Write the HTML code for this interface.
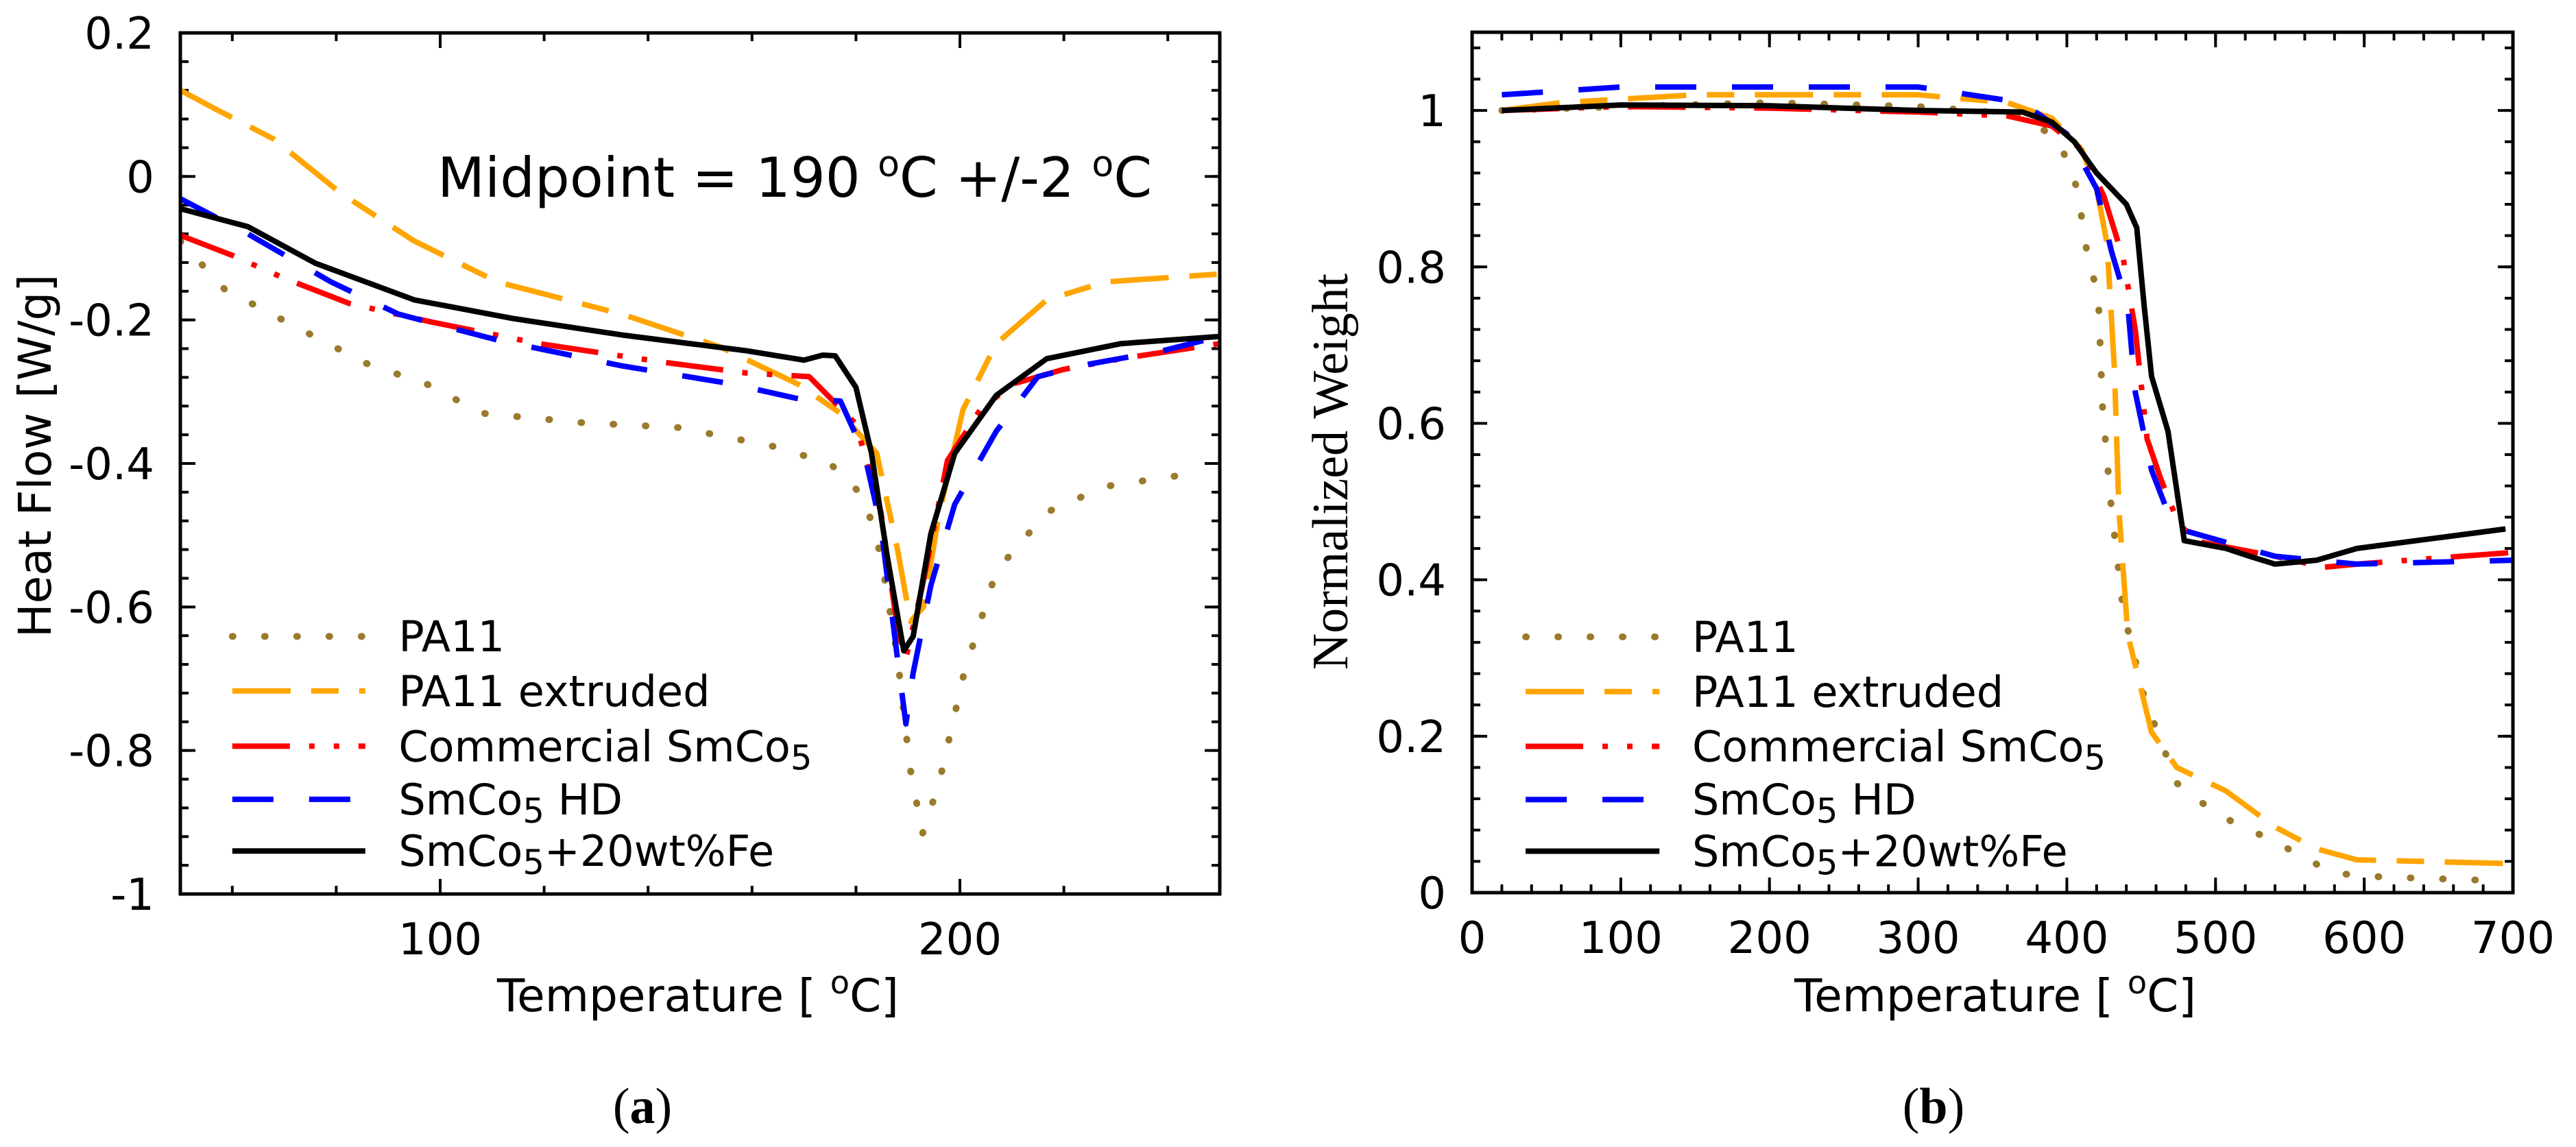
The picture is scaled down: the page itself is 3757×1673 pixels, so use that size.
<!DOCTYPE html>
<html><head><meta charset="utf-8"><style>
html,body{margin:0;padding:0;background:#fff;}
svg{display:block;font-family:"DejaVu Sans","Liberation Sans",sans-serif;}
</style></head><body>
<svg id="fig" width="3757" height="1673" viewBox="0 0 3757 1673" xmlns="http://www.w3.org/2000/svg"></svg>
<script>
// ---- Panel (a) data: DSC heat flow ----
const dscPA11 = [[50,-0.09],[58.5,-0.157],[69.7,-0.2],[85.6,-0.26],[97.6,-0.29],[108,-0.33],[127,-0.343],[146,-0.35],[164,-0.376],[175,-0.4],[181.6,-0.447],[184.8,-0.529],[188,-0.67],[190.4,-0.824],[192.8,-0.916],[196,-0.845],[200.8,-0.692],[207,-0.55],[216.7,-0.468],[228,-0.432],[242,-0.417],[247,-0.41]];
const dscExtruded = [[50,0.12],[57,0.093],[68,0.052],[81,-0.024],[95,-0.09],[111,-0.147],[135,-0.192],[154,-0.238],[169,-0.29],[177,-0.33],[184,-0.386],[188,-0.52],[190.5,-0.62],[193,-0.6],[196,-0.47],[200.6,-0.325],[207,-0.233],[216.7,-0.172],[228,-0.147],[250,-0.136]];
const dscCommercial = [[50,-0.082],[60,-0.11],[69.7,-0.141],[82.5,-0.177],[98.4,-0.203],[119,-0.233],[143,-0.259],[159,-0.274],[171,-0.279],[180,-0.345],[184.8,-0.468],[188,-0.63],[189.6,-0.672],[192.8,-0.57],[197.6,-0.396],[203.9,-0.325],[210.3,-0.289],[219.9,-0.269],[231,-0.254],[250,-0.233]];
const dscHD = [[50,-0.031],[63,-0.08],[79,-0.147],[92,-0.192],[111,-0.228],[135,-0.264],[156,-0.289],[169,-0.31],[177,-0.313],[181.6,-0.386],[184.8,-0.488],[188,-0.672],[189.6,-0.763],[191,-0.692],[194.4,-0.57],[199,-0.457],[207,-0.355],[215,-0.279],[223,-0.264],[239,-0.243],[250,-0.223]];
const dscFe = [[50,-0.045],[63,-0.07],[76,-0.121],[95,-0.172],[114,-0.198],[135,-0.221],[159,-0.243],[170,-0.256],[173.6,-0.249],[176,-0.25],[180,-0.294],[183,-0.386],[186,-0.529],[189.2,-0.661],[191,-0.641],[194.4,-0.498],[199,-0.386],[207,-0.305],[216.7,-0.254],[231,-0.233],[250,-0.223]];
const aXTicks = [100,200];
const aYTicks = [0.2,0,-0.2,-0.4,-0.6,-0.8,-1];
const aYTickLabels = ["0.2","0","-0.2","-0.4","-0.6","-0.8","-1"];

// ---- Panel (b) data: TGA normalized weight ----
const tgaPA11 = [[20,1.0],[100,1.005],[200,1.01],[300,1.005],[370,0.995],[395,0.96],[407,0.9],[415,0.8],[421,0.77],[424,0.62],[430,0.49],[438,0.36],[452,0.25],[474,0.14],[501,0.1],[540,0.065],[579,0.025],[612,0.02],[695,0.015]];
const tgaExtruded = [[20,1.0],[60,1.01],[150,1.02],[300,1.02],[360,1.01],[390,0.99],[410,0.95],[420,0.9],[427,0.83],[432,0.67],[435,0.49],[441,0.33],[457,0.205],[474,0.16],[507,0.13],[540,0.084],[568,0.056],[595,0.042],[700,0.037]];
const tgaCommercial = [[20,1.0],[100,1.005],[200,1.003],[300,0.998],[360,0.993],[390,0.98],[410,0.95],[425,0.89],[438,0.81],[446,0.72],[454,0.58],[463,0.53],[474,0.477],[485,0.45],[540,0.43],[573,0.416],[595,0.42],[700,0.435]];
const tgaHD = [[20,1.02],[100,1.03],[200,1.03],[300,1.03],[370,1.01],[400,0.97],[420,0.9],[430,0.82],[441,0.75],[446,0.64],[457,0.54],[468,0.486],[479,0.463],[540,0.43],[595,0.42],[700,0.425]];
const tgaFe = [[20,1.0],[100,1.007],[200,1.006],[300,1.0],[370,0.998],[390,0.985],[405,0.96],[420,0.92],[440,0.88],[447,0.85],[452,0.75],[457,0.66],[468,0.59],[479,0.45],[507,0.44],[523,0.43],[540,0.42],[568,0.425],[595,0.44],[695,0.465]];
const bXTicks = [0,100,200,300,400,500,600,700];
const bYTicks = [0,0.2,0.4,0.6,0.8,1];
const bYTickLabels = ["0","0.2","0.4","0.6","0.8","1"];

const legendNames = ["PA11","PA11 extruded","Commercial SmCo<tspan font-size='0.8em' dy='12'>5</tspan>","SmCo<tspan font-size='0.8em' dy='12'>5</tspan><tspan dy='-12'> HD</tspan>","SmCo<tspan font-size='0.8em' dy='12'>5</tspan><tspan dy='-12'>+20wt%Fe</tspan>"];
const styles = [
 {c:"#9a7a2c",d:"1 46",cap:"round",w:10,n:"pa11"},
 {c:"#ffa500",d:"85 30 40 30",cap:"butt",w:8,n:"pa11-extruded"},
 {c:"#ff0000",d:"84 28 8 28 8 28",cap:"butt",w:8,n:"commercial-smco5"},
 {c:"#0000ff",d:"60 52",cap:"butt",w:8,n:"smco5-hd"},
 {c:"#000000",d:"",cap:"butt",w:8,n:"smco5-fe"}
];
const NS="http://www.w3.org/2000/svg";
const svg=document.getElementById('fig');
function mk(tag,attrs,parent){const e=document.createElementNS(NS,tag);for(const k in attrs)e.setAttribute(k,attrs[k]);(parent||svg).appendChild(e);return e;}

function panel(o){
  const g=mk('g',{});
  
  
  const sx=v=>o.L+(v-o.x0)/(o.x1-o.x0)*(o.R-o.L);
  const sy=v=>o.B-(v-o.y0)/(o.y1-o.y0)*(o.B-o.T);
  for(let v=o.xm0;v<=o.x1+1e-9;v+=o.xmStep){const x=sx(v);
    mk('line',{x1:x,x2:x,y1:o.B,y2:o.B-12,stroke:'#000','stroke-width':4},g);
    mk('line',{x1:x,x2:x,y1:o.T,y2:o.T+12,stroke:'#000','stroke-width':4},g);}
  for(let v=o.ym0;v<=o.y1+1e-9;v+=o.ymStep){const y=sy(v);
    mk('line',{x1:o.L,x2:o.L+12,y1:y,y2:y,stroke:'#000','stroke-width':4},g);
    mk('line',{x1:o.R,x2:o.R-12,y1:y,y2:y,stroke:'#000','stroke-width':4},g);}
  o.xt.forEach((v)=>{const x=sx(v);
    mk('line',{x1:x,x2:x,y1:o.B,y2:o.B-22,stroke:'#000','stroke-width':4},g);
    mk('line',{x1:x,x2:x,y1:o.T,y2:o.T+22,stroke:'#000','stroke-width':4},g);
    const t=mk('text',{x:x,y:o.B+88,'font-size':64,'text-anchor':'middle',fill:'#000'},g);
    
    
    t.textContent=String(v);});
  o.yt.forEach((v,i)=>{const y=sy(v);
    mk('line',{x1:o.L,x2:o.L+22,y1:y,y2:y,stroke:'#000','stroke-width':4},g);
    mk('line',{x1:o.R,x2:o.R-22,y1:y,y2:y,stroke:'#000','stroke-width':4},g);
    const t=mk('text',{x:o.L-38,y:y+23,'font-size':64,'text-anchor':'end',fill:'#000'},g);
    
    
    t.textContent=o.ytl[i];});
  const cp=mk('clipPath',{id:o.clip},g);mk('rect',{x:o.L,y:o.T,width:o.R-o.L,height:o.B-o.T},cp);
  const cg=mk('g',{'clip-path':'url(#'+o.clip+')'},g);
  o.series.forEach((s,i)=>{const st=styles[i];
    const p=mk('polyline',{points:s.map(d=>sx(d[0]).toFixed(1)+','+sy(d[1]).toFixed(1)).join(' '),fill:'none',stroke:st.c,'stroke-width':st.w,'stroke-dasharray':st.d,'stroke-linecap':st.cap,'stroke-linejoin':'round'},cg);
    
    });
  o.leg.forEach((ly,i)=>{const st=styles[i];const y=sy(ly);
    const lg=mk('g',{},g);
    
    
    mk('line',{x1:sx(o.legX[0]),x2:sx(o.legX[1]),y1:y,y2:y,stroke:st.c,'stroke-width':st.w,'stroke-dasharray':st.d,'stroke-linecap':st.cap},lg);
    const t=mk('text',{x:sx(o.legX[2]),y:y+22,'font-size':62,fill:'#000'},lg);
    t.innerHTML=legendNames[i];});
  mk('rect',{x:o.L,y:o.T,width:o.R-o.L,height:o.B-o.T,fill:'none',stroke:'#000','stroke-width':5},g);
  return {sx,sy,g};
}

const A=panel({name:'panel-a-dsc',L:263,R:1779,T:48,B:1304,x0:50,x1:250,y0:-1,y1:0.2,xm0:60,xmStep:20,ym0:-0.96,ymStep:0.04,xt:aXTicks,yt:aYTicks,ytl:aYTickLabels,clip:'ca',
  series:[dscPA11,dscExtruded,dscCommercial,dscHD,dscFe],leg:[-0.641,-0.717,-0.794,-0.868,-0.94],legX:[60,85.6,92]});
const B=panel({name:'panel-b-tga',L:2147,R:3665,T:47,B:1302,x0:0,x1:700,y0:0,y1:1.1,xm0:20,xmStep:20,ym0:0.04,ymStep:0.04,xt:bXTicks,yt:bYTicks,ytl:bYTickLabels,clip:'cb',
  series:[tgaPA11,tgaExtruded,tgaCommercial,tgaHD,tgaFe],leg:[0.327,0.257,0.187,0.119,0.053],legX:[36,126,148]});

let t;
t=mk('text',{x:638,y:287,'font-size':80,fill:'#000'});


t.innerHTML="Midpoint = 190 <tspan font-size='0.65em' dy='-30'>o</tspan><tspan dy='30'>C +/-2 </tspan><tspan font-size='0.65em' dy='-30'>o</tspan><tspan dy='30'>C</tspan>";
t=mk('text',{x:725,y:1475,'font-size':66,fill:'#000'});


t.innerHTML="Temperature [ <tspan font-size='0.7em' dy='-26'>o</tspan><tspan dy='26'>C]</tspan>";
t=mk('text',{x:2910,y:1475,'font-size':66,'text-anchor':'middle',fill:'#000'});


t.innerHTML="Temperature [ <tspan font-size='0.7em' dy='-26'>o</tspan><tspan dy='26'>C]</tspan>";
t=mk('text',{x:0,y:0,'font-size':66,'text-anchor':'middle',fill:'#000',transform:'translate(74,665) rotate(-90)'});


t.textContent="Heat Flow [W/g]";
t=mk('text',{x:0,y:0,'font-size':74,'text-anchor':'middle',fill:'#000','font-family':'Liberation Serif, serif',transform:'translate(1965,688) rotate(-90)'});


t.textContent="Normalized Weight";
t=mk('text',{x:937,y:1638,'font-size':74,'text-anchor':'middle',fill:'#000','font-family':'Liberation Serif, serif'});


t.innerHTML="(<tspan font-weight='bold'>a</tspan>)";
t=mk('text',{x:2820,y:1638,'font-size':74,'text-anchor':'middle',fill:'#000','font-family':'Liberation Serif, serif'});


t.innerHTML="(<tspan font-weight='bold'>b</tspan>)";
</script>
</body></html>
